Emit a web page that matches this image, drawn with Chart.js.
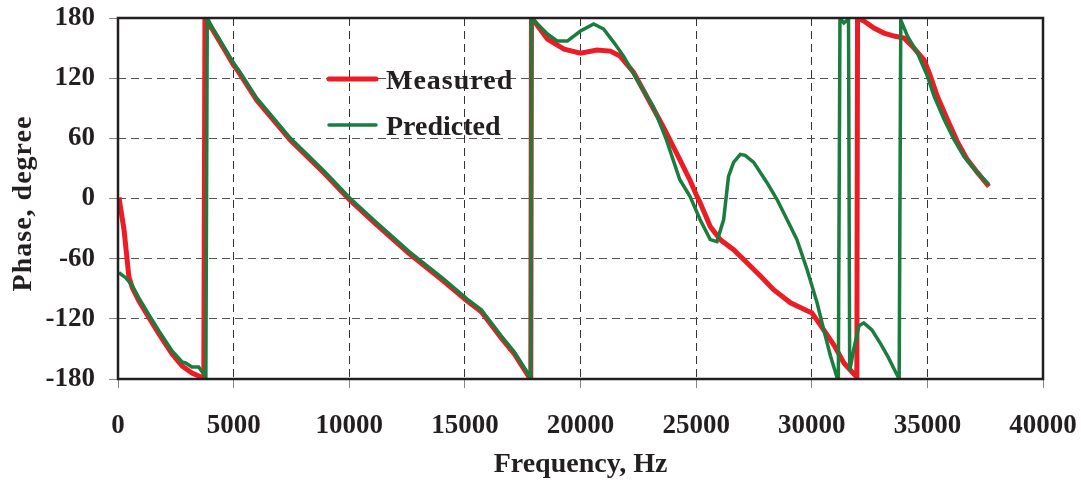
<!DOCTYPE html>
<html>
<head>
<meta charset="utf-8">
<script src="https://cdn.jsdelivr.net/npm/chart.js@4.4.1/dist/chart.umd.min.js"></script>
<style>
  html, body { margin: 0; padding: 0; background: #fff; }
  canvas { display: block; }
</style>
</head>
<body>
<canvas id="phase" width="1081" height="487"></canvas>
<script>
// values (Hz, degree)
const measuredHz = [40, 260, 470, 620, 900, 1340, 1770, 2340, 2770, 3200, 3490, 3710, 3760, 3900, 4070, 4640, 4970, 5220, 6000, 7460, 8930, 10000, 11130, 12590, 14060, 15090, 15710, 16570, 17140, 17800, 17850, 17880, 17930, 18570, 19290, 20000, 20710, 21290, 21710, 22290, 22860, 23570, 24290, 24740, 25000, 25170, 25610, 26040, 26620, 27200, 27770, 28350, 29080, 29800, 30000, 30400, 30980, 31390, 31820, 31950, 31980, 32250, 32690, 33120, 33560, 33990, 34420, 34860, 35100, 35430, 35860, 36290, 36720, 37160, 37660];
const measuredDeg = [1, -31, -78, -89, -102, -119, -135, -155, -167, -174, -177, -180, 180, 174, 169, 147, 134, 126, 98, 58, 25, -1, -25, -55, -82, -102, -113, -139, -155, -179, -180, 180, 179, 159, 149, 145, 148, 147, 142, 126, 102, 72, 39, 18, 4, -4, -28, -41, -51, -64, -77, -91, -104, -112, -114, -127, -147, -164, -175, -178, 180, 177, 170, 165, 162, 160, 150, 138, 124, 102, 79, 57, 39, 26, 12];

const predictedHz = [40, 330, 620, 900, 1340, 1770, 2340, 2770, 2920, 3200, 3490, 3640, 3800, 3860, 4070, 4640, 4970, 5220, 6000, 7460, 8930, 10000, 11130, 12590, 14060, 15090, 15710, 16570, 17140, 17800, 17850, 17880, 18570, 19000, 19430, 20000, 20570, 21000, 21430, 21860, 22430, 23140, 23710, 24290, 24740, 25170, 25610, 25900, 26190, 26400, 26620, 26910, 27120, 27490, 28060, 28500, 28930, 29360, 29800, 30230, 30520, 30810, 31100, 31150, 31220, 31390, 31590, 31640, 31820, 32040, 32250, 32600, 32980, 33300, 33560, 33780, 33850, 34140, 34570, 35000, 35290, 35720, 36150, 36580, 37160, 37660];
const predictedDeg = [-74, -79, -87, -99, -116, -132, -152, -163, -164, -168, -168, -173, -177, 180, 171, 149, 136, 128, 100, 60, 27, 1, -23, -53, -80, -100, -111, -137, -153, -177, -180, 180, 164, 157, 157, 167, 174, 169, 156, 142, 119, 92, 59, 19, 2, -21, -41, -43, -21, 22, 36, 44, 43, 36, 16, -1, -21, -41, -71, -104, -131, -157, -179, -180, 180, 175, 179, -172, -150, -127, -124, -131, -145, -158, -170, -180, 178, 162, 145, 122, 102, 79, 59, 42, 26, 14];

const seriesNames = ["Measured", "Predicted"];
const seriesColors = ["#ED1C24", "#1A7D3E"];
const xTitle = "Frequency, Hz";
const yTitle = "Phase, degree";

const serif = "'Liberation Serif', 'Times New Roman', serif";
const ink = "#231F20";

const toPoints = (xs, ys) => xs.map((x, i) => ({ x: x, y: ys[i] }));

// keep the plot box where the reference has it
const noEdgePadding = (s) => {
  s.paddingTop = 0;
  s.paddingBottom = 0;
  s.paddingLeft = 0;
  s.paddingRight = 0;
};

// frame, legend and axis titles
const decor = {
  id: "decor",
  afterDraw(chart) {
    const { ctx, chartArea: a } = chart;
    ctx.save();
    ctx.setLineDash([]);
    ctx.strokeStyle = ink;
    ctx.lineWidth = 2.5;
    ctx.strokeRect(a.left, a.top, a.right - a.left, a.bottom - a.top);

    // legend inside the plot
    const widths = [5, 3.5];
    seriesNames.forEach((name, i) => {
      const y = a.top + 61 + i * 46;
      ctx.beginPath();
      ctx.lineCap = "round";
      ctx.lineWidth = widths[i];
      ctx.strokeStyle = seriesColors[i];
      ctx.moveTo(a.left + 211, y);
      ctx.lineTo(a.left + 258, y);
      ctx.stroke();
      ctx.fillStyle = ink;
      ctx.font = "bold 28px " + serif;
      ctx.textAlign = "left";
      ctx.textBaseline = "alphabetic";
      ctx.letterSpacing = i === 0 ? "1px" : "0px";
      ctx.fillText(name, a.left + 268, y + 10);
    });
    ctx.letterSpacing = "0px";

    // x title
    ctx.font = "bold 28px " + serif;
    ctx.textAlign = "center";
    ctx.textBaseline = "alphabetic";
    ctx.fillText(xTitle, (a.left + a.right) / 2, 472);

    // y title
    ctx.translate(31, (a.top + a.bottom) / 2 + 5);
    ctx.rotate(-Math.PI / 2);
    ctx.letterSpacing = "1px";
    ctx.fillText(yTitle, 0, 0);
    ctx.restore();
  }
};

new Chart(document.getElementById("phase"), {
  type: "line",
  data: {
    datasets: [
      {
        label: seriesNames[0],
        data: toPoints(measuredHz, measuredDeg),
        borderColor: seriesColors[0],
        borderWidth: 5,
        pointRadius: 0,
        tension: 0,
        order: 1
      },
      {
        label: seriesNames[1],
        data: toPoints(predictedHz, predictedDeg),
        borderColor: seriesColors[1],
        borderWidth: 3.5,
        pointRadius: 0,
        tension: 0,
        order: 0
      }
    ]
  },
  options: {
    responsive: false,
    animation: false,
    devicePixelRatio: 1,
    layout: { padding: { top: 18, right: 38, left: 0, bottom: 0 } },
    plugins: { legend: { display: false }, tooltip: { enabled: false } },
    scales: {
      x: {
        type: "linear",
        min: 0,
        max: 40000,
        afterFit: (s) => { s.height = 108; noEdgePadding(s); },
        ticks: {
          stepSize: 5000,
          autoSkip: false,
          maxRotation: 0,
          padding: 22,
          color: ink,
          font: { family: serif, size: 27, weight: "bold" },
          callback: (v) => String(v)
        },
        grid: { color: "#333", lineWidth: 1, tickLength: 9, tickColor: "#888", tickBorderDash: [] },
        border: { display: false, dash: [8, 5] }
      },
      y: {
        min: -180,
        max: 180,
        afterFit: (s) => { s.width = 118; noEdgePadding(s); },
        ticks: {
          stepSize: 60,
          padding: 14,
          color: ink,
          font: { family: serif, size: 27, weight: "bold" },
          callback: (v) => String(v)
        },
        grid: { color: "#555", lineWidth: 1, tickLength: 9, tickColor: "#888", tickBorderDash: [] },
        border: { display: false, dash: [8, 5] }
      }
    }
  },
  plugins: [decor]
});
</script>
</body>
</html>
